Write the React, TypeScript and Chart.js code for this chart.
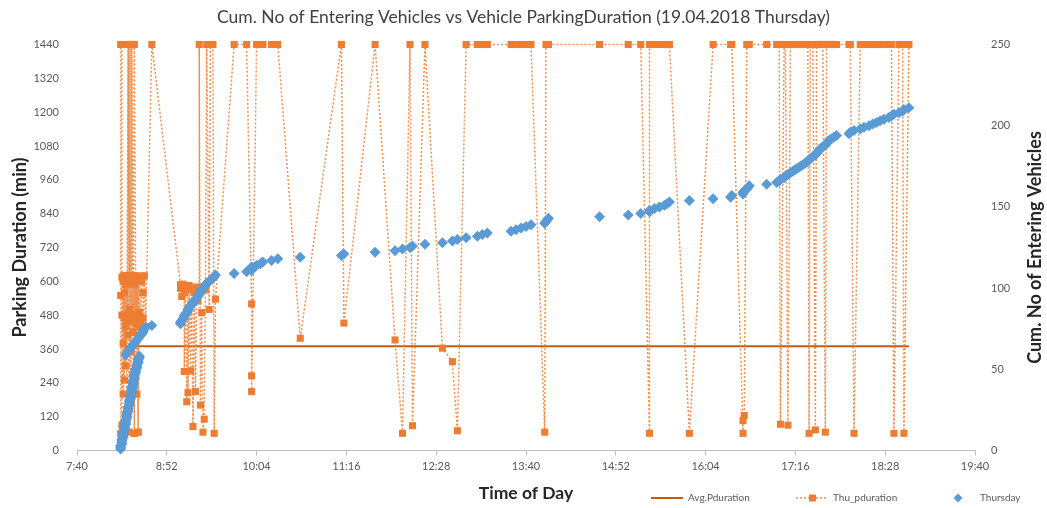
import React, { useEffect, useRef } from 'react';
import { Chart, registerables } from 'chart.js';

Chart.register(...registerables);

const FONT = 'Lato, "Liberation Sans", sans-serif';

const chartTitle = 'Cum. No of Entering Vehicles vs Vehicle ParkingDuration (19.04.2018 Thursday)';
const seriesNames = ['Avg.Pduration', 'Thu_pduration', 'Thursday'];
const xAxisTitle = 'Time of Day';
const leftAxisTitle = 'Parking Duration (min)';
const rightAxisTitle = 'Cum. No of Entering Vehicles';

const timeTickLabels = ['7:40', '8:52', '10:04', '11:16', '12:28', '13:40', '14:52', '16:04', '17:16', '18:28', '19:40'];

// entry time of each vehicle, minutes after midnight
const entryMinutes = [
  495, 495, 495, 496, 496, 496, 496, 497, 497, 497,
  497, 498, 498, 498, 498, 499, 499, 499, 499, 500,
  500, 500, 500, 501, 501, 501, 501, 502, 502, 502,
  502, 503, 503, 503, 503, 504, 504, 504, 504, 505,
  505, 505, 505, 506, 506, 506, 506, 507, 507, 507,
  508, 508, 508, 509, 509, 509, 510, 510,
  499, 500, 501, 502, 503, 504, 505, 506, 507, 508,
  509, 510, 511, 512, 513, 513, 514, 515,
  520,
  543, 543, 544, 545, 546, 546, 547, 548, 549, 549,
  550, 551, 552, 553, 554, 555, 556, 557, 558, 558,
  559, 560, 561, 562, 563, 564, 566, 567, 569, 570,
  571,
  586, 596, 600, 600, 600, 604, 607, 609, 616, 621,
  639, 672, 674, 699, 715, 721, 727, 729, 739, 753,
  761, 765, 772, 781, 785, 789, 808, 812, 816, 820,
  824, 835, 836, 837, 838, 879, 902, 912, 919, 919,
  923, 927, 931, 933, 935, 951, 970, 984, 985, 994,
  994, 995, 997, 998, 999, 1013, 1021, 1023, 1024, 1027,
  1028, 1030, 1032, 1034, 1036, 1038, 1040, 1042, 1044, 1046,
  1047, 1048, 1050, 1052, 1053, 1054, 1055, 1056, 1058, 1060,
  1061, 1062, 1063, 1065, 1067, 1069, 1079, 1080, 1083, 1088,
  1091, 1095, 1098, 1101, 1104, 1107, 1111, 1113, 1115, 1119,
  1122, 1123, 1127,
];

// parking duration of each vehicle (min)
const parkingDuration = [
  60, 550, 1440, 1440, 90, 480, 615, 380, 600, 610,
  200, 470, 620, 250, 560, 440, 615, 590, 300, 605,
  480, 120, 620, 410, 1440, 590, 460, 65, 615, 1440,
  500, 350, 620, 1440, 180, 610, 470, 1440, 600, 420,
  615, 240, 480, 620, 460, 60, 590, 450, 610, 380,
  200, 620, 470, 600, 65, 615, 490, 440,
  610, 470, 1440, 620, 180, 1440, 420, 1440, 610, 480,
  65, 615, 450, 600, 560, 470, 620, 440,
  1440,
  588, 575, 546, 590, 560, 280, 580, 173, 570, 205,
  585, 282, 575, 85, 560, 209, 580, 530, 570, 1440,
  161, 489, 65, 111, 570, 1440, 500, 1440, 1440, 61,
  537,
  1440, 1440, 520, 265, 209, 1440, 1440, 1440, 1440, 1440,
  398, 1440, 452, 1440, 392, 61, 1440, 88, 1440, 363,
  315, 70, 1440, 1440, 1440, 1440, 1440, 1440, 1440, 1440,
  1440, 65, 1440, 1440, 1440, 1440, 1440, 1440, 61, 1440,
  1440, 1440, 1440, 1440, 1440, 61, 1440, 1440, 1440, 61,
  106, 124, 1440, 1440, 1440, 1440, 1440, 1440, 93, 1440,
  1440, 90, 1440, 1440, 1440, 1440, 1440, 1440, 1440, 1440,
  61, 1440, 1440, 73, 1440, 1440, 1440, 1440, 1440, 65,
  1440, 1440, 1440, 1440, 1440, 1440, 1440, 1440, 61, 1440,
  1440, 1440, 1440, 1440, 1440, 1440, 1440, 1440, 61, 1440,
  1440, 61, 1440,
];

// cumulative number of entering vehicles
const cumulativeVehicles = [
  1, 2, 3, 4, 5, 6, 7, 8, 9, 10,
  11, 12, 13, 14, 15, 16, 17, 18, 19, 20,
  21, 22, 23, 24, 25, 26, 27, 28, 29, 30,
  31, 32, 33, 34, 35, 36, 37, 38, 39, 40,
  41, 42, 43, 44, 45, 46, 47, 48, 49, 50,
  51, 52, 53, 54, 55, 56, 57, 58,
  59, 60, 61, 62, 63, 64, 65, 66, 67, 68,
  69, 70, 71, 72, 73, 74, 75, 76,
  77,
  78, 79, 80, 81, 82, 83, 84, 85, 86, 87,
  88, 89, 90, 91, 92, 93, 94, 95, 96, 97,
  98, 99, 100, 101, 102, 103, 104, 105, 106, 107,
  108,
  109, 110, 111, 112, 113, 114, 115, 116, 117, 118,
  119, 120, 121, 122, 123, 124, 125, 126, 127, 128,
  129, 130, 131, 132, 133, 134, 135, 136, 137, 138,
  139, 140, 141, 142, 143, 144, 145, 146, 147, 148,
  149, 150, 151, 152, 153, 154, 155, 156, 157, 158,
  159, 160, 161, 162, 163, 164, 165, 166, 167, 168,
  169, 170, 171, 172, 173, 174, 175, 176, 177, 178,
  179, 180, 181, 182, 183, 184, 185, 186, 187, 188,
  189, 190, 191, 192, 193, 194, 195, 196, 197, 198,
  199, 200, 201, 202, 203, 204, 205, 206, 207, 208,
  209, 210, 211,
];

const avgLineTimes = [495, 1127];
const avgLineDuration = [370, 370];

const AVG_COLOR = '#C55A11';
const DUR_COLOR = '#ED7D31';
const DUR_LINE_COLOR = 'rgba(237,125,49,0.85)';
const CUM_COLOR = '#5B9BD5';

const overlayPlugin = {
  id: 'overlay',
  afterDraw(chart: any) {
    const ctx = chart.ctx as CanvasRenderingContext2D;
    const area = chart.chartArea;
    // right axis title (reads bottom to top)
    ctx.save();
    ctx.font = `bold 18px ${FONT}`;
    ctx.fillStyle = '#262626';
    ctx.textAlign = 'center';
    ctx.textBaseline = 'middle';
    ctx.translate(1035, (area.top + area.bottom) / 2);
    ctx.rotate(-Math.PI / 2);
    ctx.fillText(rightAxisTitle, 0, 0);
    ctx.restore();

    // legend
    const ly = 498;
    ctx.save();
    ctx.font = `10px ${FONT}`;
    ctx.fillStyle = '#595959';
    ctx.textAlign = 'left';
    ctx.textBaseline = 'middle';
    // Avg
    ctx.strokeStyle = AVG_COLOR;
    ctx.lineWidth = 2;
    ctx.beginPath();
    ctx.moveTo(651, ly);
    ctx.lineTo(683, ly);
    ctx.stroke();
    ctx.fillText(seriesNames[0], 688, ly);
    // Thu_pduration
    ctx.strokeStyle = DUR_LINE_COLOR;
    ctx.lineWidth = 1.5;
    ctx.setLineDash([2, 2]);
    ctx.beginPath();
    ctx.moveTo(796, ly);
    ctx.lineTo(828, ly);
    ctx.stroke();
    ctx.setLineDash([]);
    ctx.fillStyle = DUR_COLOR;
    ctx.fillRect(809, ly - 3.5, 7, 7);
    ctx.fillStyle = '#595959';
    ctx.fillText(seriesNames[1], 833, ly);
    // Thursday
    ctx.fillStyle = CUM_COLOR;
    ctx.beginPath();
    ctx.moveTo(958, ly - 4.5);
    ctx.lineTo(962.5, ly);
    ctx.lineTo(958, ly + 4.5);
    ctx.lineTo(953.5, ly);
    ctx.closePath();
    ctx.fill();
    ctx.fillStyle = '#595959';
    ctx.fillText(seriesNames[2], 980, ly);
    ctx.restore();
  },
};

export default function App() {
  const canvasRef = useRef<HTMLCanvasElement | null>(null);

  useEffect(() => {
    if (!canvasRef.current) return;
    const durationPoints = entryMinutes.map((t, i) => ({ x: t, y: parkingDuration[i] }));
    const cumPoints = entryMinutes.map((t, i) => ({ x: t, y: cumulativeVehicles[i] }));
    const avgPoints = avgLineTimes.map((t, i) => ({ x: t, y: avgLineDuration[i] }));

    const tickFont = { family: FONT, size: 11 };

    const chart = new Chart(canvasRef.current, {
      type: 'scatter',
      data: {
        datasets: [
          {
            label: seriesNames[2],
            data: cumPoints,
            yAxisID: 'y1',
            showLine: false,
            pointStyle: 'rectRot',
            pointRadius: 5.5,
            pointBorderWidth: 0,
            pointBackgroundColor: CUM_COLOR,
            borderColor: CUM_COLOR,
            backgroundColor: CUM_COLOR,
            order: 0,
            clip: false,
          },
          {
            label: seriesNames[1],
            data: durationPoints,
            yAxisID: 'y',
            showLine: true,
            borderColor: DUR_LINE_COLOR,
            borderWidth: 1.5,
            borderDash: [2, 2],
            tension: 0,
            pointStyle: 'rect',
            pointRadius: 5,
            pointBorderWidth: 0,
            pointBackgroundColor: DUR_COLOR,
            backgroundColor: DUR_COLOR,
            order: 1,
            clip: false,
          },
          {
            label: seriesNames[0],
            data: avgPoints,
            yAxisID: 'y',
            showLine: true,
            borderColor: AVG_COLOR,
            borderWidth: 2,
            pointRadius: 0,
            order: 2,
            clip: false,
          },
        ],
      } as any,
      options: {
        animation: false,
        responsive: true,
        maintainAspectRatio: false,
        layout: { padding: 0 },
        plugins: {
          legend: { display: false },
          tooltip: { enabled: false },
          title: {
            display: true,
            text: chartTitle,
            color: '#404040',
            font: { family: FONT, size: 17.5, weight: 'normal' },
            padding: { top: 7, bottom: 16.5 },
          },
        },
        scales: {
          x: {
            type: 'linear',
            position: 'bottom',
            min: 460,
            max: 1180,
            ticks: {
              stepSize: 72,
              color: '#595959',
              font: tickFont,
              padding: 4,
              maxRotation: 0,
              autoSkip: false,
              callback: (_v: any, i: number) => timeTickLabels[i],
            },
            grid: {
              display: true,
              drawOnChartArea: false,
              drawTicks: true,
              tickLength: 5,
              color: '#BFBFBF',
            },
            border: { display: true, color: '#BFBFBF', width: 1 },
            title: {
              display: true,
              text: xAxisTitle,
              color: '#262626',
              font: { family: FONT, size: 17.5, weight: 'bold' },
              padding: { top: 0, bottom: 4 },
            },
            afterFit: (s: any) => { s.height = 57.5; },
          },
          y: {
            type: 'linear',
            position: 'left',
            min: 0,
            max: 1440,
            ticks: { stepSize: 120, color: '#595959', font: tickFont, padding: 10, callback: (v: any) => String(v) },
            grid: { display: false },
            border: { display: false },
            title: {
              display: true,
              text: leftAxisTitle,
              color: '#262626',
              font: { family: FONT, size: 18, weight: 'bold' },
              padding: { top: 9, bottom: 0 },
            },
            afterFit: (s: any) => { s.width = 77; },
          },
          y1: {
            type: 'linear',
            position: 'right',
            min: 0,
            max: 250,
            ticks: { stepSize: 50, color: '#595959', font: tickFont, padding: 8, callback: (v: any) => String(v) },
            grid: { display: false },
            border: { display: false },
            title: { display: false },
            afterFit: (s: any) => { s.width = 72; },
          },
        },
      } as any,
      plugins: [overlayPlugin],
    });
    return () => chart.destroy();
  }, []);

  return (
    <div style={{ position: 'fixed', left: 0, top: 0, width: 1047, height: 508, background: '#fff' }}>
      <canvas ref={canvasRef} />
    </div>
  );
}
